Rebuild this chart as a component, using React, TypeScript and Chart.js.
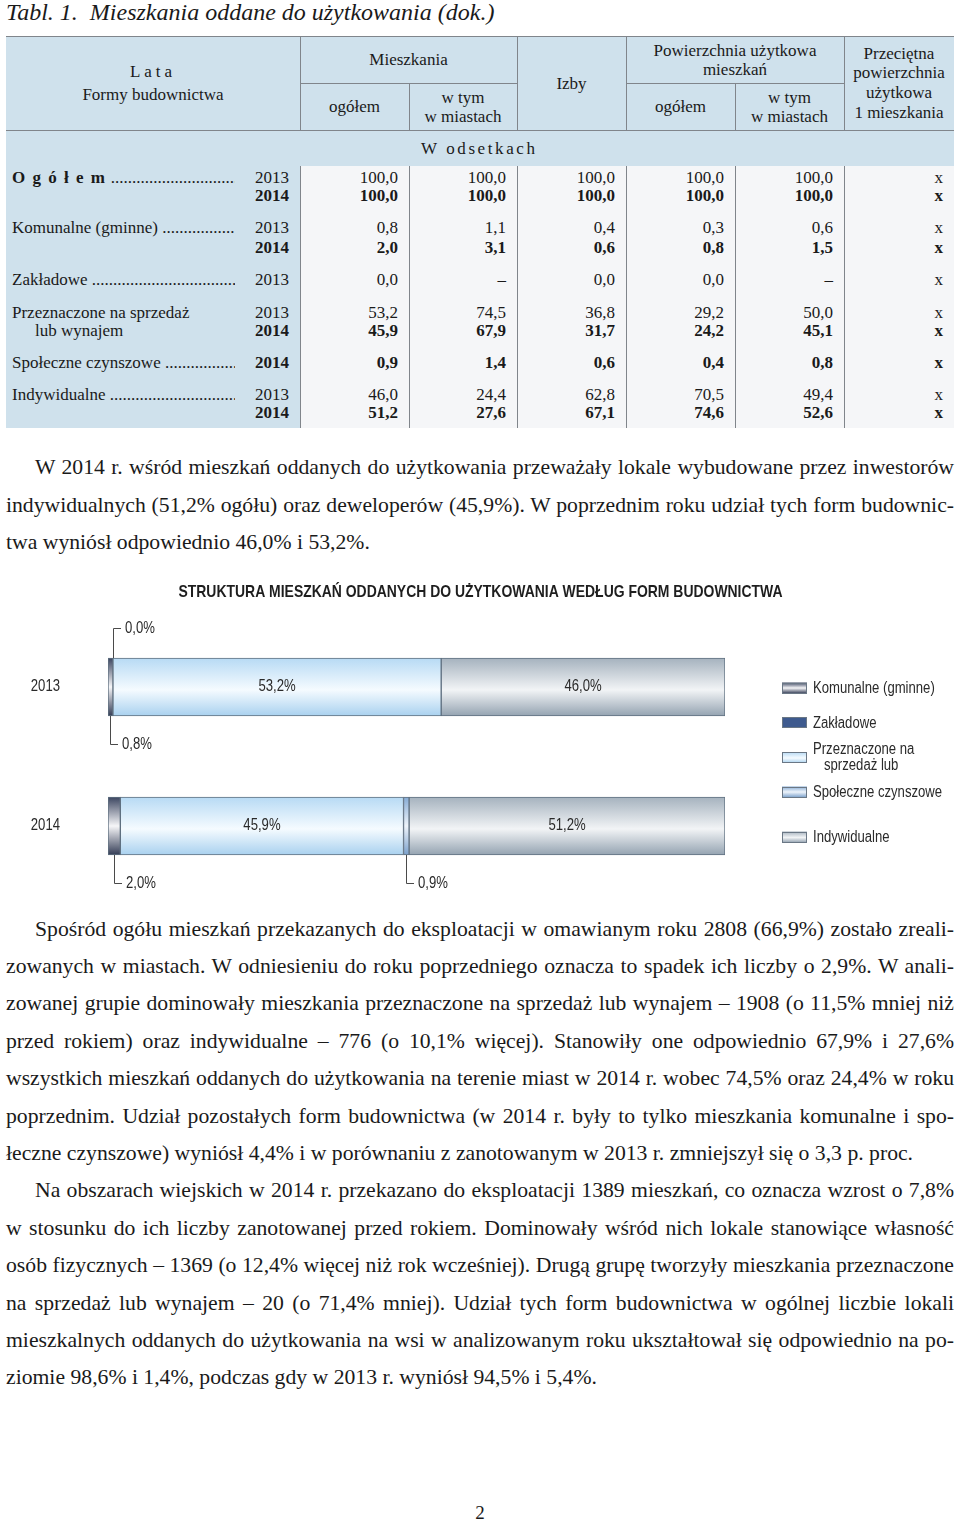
import React, { useEffect, useRef } from 'react';
import { Chart, registerables } from 'chart.js';

Chart.register(...registerables);

// ---------------- DATA ----------------
const years = ['2013', '2014'];
const seriesNames = ['Komunalne (gminne)', 'Zakładowe', 'Przeznaczone na\nsprzedaż lub', 'Społeczne czynszowe', 'Indywidualne'];
const komunalne = [0.8, 2.0];
const zakladowe = [0.0, null];
const przeznaczone = [53.2, 45.9];
const spoleczne = [null, 0.9];
const indywidualne = [46.0, 51.2];
const chartTitle = 'STRUKTURA MIESZKAŃ ODDANYCH DO UŻYTKOWANIA WEDŁUG FORM BUDOWNICTWA';

// table data
const tableTitle = 'Tabl. 1.  Mieszkania oddane do użytkowania (dok.)';
const rowLabels = ['O g ó ł e m', 'Komunalne (gminne)', 'Zakładowe', 'Przeznaczone na sprzedaż', 'Społeczne czynszowe', 'Indywidualne'];
const rowYears = [['2013', '2014'], ['2013', '2014'], ['2013'], ['2013', '2014'], ['2014'], ['2013', '2014']];
const ogolemVals = [['100,0', '100,0', '100,0', '100,0', '100,0', 'x'], ['100,0', '100,0', '100,0', '100,0', '100,0', 'x']];
const komunalneVals = [['0,8', '1,1', '0,4', '0,3', '0,6', 'x'], ['2,0', '3,1', '0,6', '0,8', '1,5', 'x']];
const zakladoweVals = [['0,0', '–', '0,0', '0,0', '–', 'x']];
const przeznaczoneVals = [['53,2', '74,5', '36,8', '29,2', '50,0', 'x'], ['45,9', '67,9', '31,7', '24,2', '45,1', 'x']];
const spoleczneVals = [['0,9', '1,4', '0,6', '0,4', '0,8', 'x']];
const indywidualneVals = [['46,0', '24,4', '62,8', '70,5', '49,4', 'x'], ['51,2', '27,6', '67,1', '74,6', '52,6', 'x']];
const rowValues = [ogolemVals, komunalneVals, zakladoweVals, przeznaczoneVals, spoleczneVals, indywidualneVals];

const para1 = [
  'W 2014 r. wśród mieszkań oddanych do użytkowania przeważały lokale wybudowane przez inwestorów',
  'indywidualnych (51,2% ogółu) oraz deweloperów (45,9%). W poprzednim roku udział tych form budownic-',
  'twa wyniósł odpowiednio 46,0% i 53,2%.',
];
const para2 = [
  'Spośród ogółu mieszkań przekazanych do eksploatacji w omawianym roku 2808 (66,9%) zostało zreali-',
  'zowanych w miastach. W odniesieniu do roku poprzedniego oznacza to spadek ich liczby o 2,9%. W anali-',
  'zowanej grupie dominowały mieszkania przeznaczone na sprzedaż lub wynajem – 1908 (o 11,5% mniej niż',
  'przed rokiem) oraz indywidualne – 776 (o 10,1% więcej). Stanowiły one odpowiednio 67,9% i 27,6%',
  'wszystkich mieszkań oddanych do użytkowania na terenie miast w 2014 r. wobec 74,5% oraz 24,4% w roku',
  'poprzednim. Udział pozostałych form budownictwa (w 2014 r. były to tylko mieszkania komunalne i spo-',
  'łeczne czynszowe) wyniósł 4,4% i w porównaniu z zanotowanym w 2013 r. zmniejszył się o 3,3 p. proc.',
];
const para3 = [
  'Na obszarach wiejskich w 2014 r. przekazano do eksploatacji 1389 mieszkań, co oznacza wzrost o 7,8%',
  'w stosunku do ich liczby zanotowanej przed rokiem. Dominowały wśród nich lokale stanowiące własność',
  'osób fizycznych – 1369 (o 12,4% więcej niż rok wcześniej). Drugą grupę tworzyły mieszkania przeznaczone',
  'na sprzedaż lub wynajem – 20 (o 71,4% mniej). Udział tych form budownictwa w ogólnej liczbie lokali',
  'mieszkalnych oddanych do użytkowania na wsi w analizowanym roku ukształtował się odpowiednio na po-',
  'ziomie 98,6% i 1,4%, podczas gdy w 2013 r. wyniósł 94,5% i 5,4%.',
];

// ---------------- STYLE ----------------
const SERIF = '"Liberation Serif", "Times New Roman", serif';
const SANS = '"Liberation Sans", Arial, sans-serif';
const NARROW_K = 0.82;
const HEAD_BG = '#cfe1ec';
const DATA_BG = '#f5f6f8';
const LINE = '#80858b';
const TXT = '#2a2a2a';
const colEdges = [300, 409, 517, 626, 735, 844, 954];
const rowLineY = [[178, 196], [228, 248], [280], [313, 331], [363], [395, 413]];
const paraY = [[467, 505, 542], [929, 966, 1003, 1041, 1078, 1116, 1153], [1190, 1228, 1265, 1303, 1340, 1377]];

const gradients = [
  [[0, '#3b4560'], [0.5, '#f6f6f8'], [1, '#333c55']],
  [[0, '#3e5a8e'], [0.5, '#3e5a8e'], [1, '#3e5a8e']],
  [[0, '#b7daf4'], [0.55, '#f5fbff'], [1, '#a9d1ef']],
  [[0, '#86abd4'], [0.5, '#eef4fb'], [1, '#7aa0cb']],
  [[0, '#a5b2be'], [0.55, '#f2f4f6'], [1, '#94a3b1']],
];
const leaderSide = ['below', 'above', 'below', 'below', 'below'];
const legendY = [118, 152.5, 187.5, 222, 267];
const BAR_T = 58;

function fmt(v: number) {
  return v.toFixed(1).replace('.', ',') + '%';
}

function makeGrad(c: CanvasRenderingContext2D, stops: any[], y0: number, y1: number) {
  const g = c.createLinearGradient(0, y0, 0, y1);
  stops.forEach(([o, col]) => g.addColorStop(o, col));
  return g;
}

// condensed text (Arial-Narrow-like) drawn by horizontal scaling
function narrowText(c: CanvasRenderingContext2D, text: string, x: number, y: number, align: 'left' | 'center' | 'right', size: number, bold = false) {
  c.save();
  c.font = `${bold ? 'bold ' : ''}${size}px ${SANS}`;
  c.textBaseline = 'middle';
  c.textAlign = 'left';
  const w = c.measureText(text).width * NARROW_K;
  const x0 = align === 'left' ? x : align === 'center' ? x - w / 2 : x - w;
  c.translate(x0, y);
  c.scale(NARROW_K, 1);
  c.fillText(text, 0, 0);
  c.restore();
}

function gradFill(idx: number) {
  return (ctx: any) => {
    const chart = ctx.chart;
    const ys = chart.scales && chart.scales.y;
    if (!ys || !chart.chartArea || ctx.dataIndex === undefined) return gradients[idx][1][1];
    const c = ys.getPixelForValue(ctx.dataIndex);
    if (!isFinite(c)) return gradients[idx][1][1];
    return makeGrad(chart.ctx, gradients[idx], c - BAR_T / 2, c + BAR_T / 2);
  };
}

const decorPlugin = {
  id: 'decor',
  afterDatasetsDraw(chart: any) {
    const c: CanvasRenderingContext2D = chart.ctx;
    c.save();
    c.fillStyle = TXT;
    // category labels
    const ys = chart.scales.y;
    chart.data.labels.forEach((lab: string, i: number) => {
      narrowText(c, lab, ys.left + 60, ys.getPixelForTick(i), 'right', 16);
    });
    chart.data.datasets.forEach((ds: any, di: number) => {
      const meta = chart.getDatasetMeta(di);
      meta.data.forEach((el: any, i: number) => {
        const v = ds.data[i];
        if (v === null || v === undefined) return;
        const p = el.getProps(['x', 'base', 'y', 'height'], true);
        const cx = (p.x + p.base) / 2;
        const txt = fmt(v);
        if (v >= 5) {
          narrowText(c, txt, cx, p.y, 'center', 16);
        } else {
          const up = leaderSide[di] === 'above';
          const yEdge = up ? p.y - p.height / 2 : p.y + p.height / 2;
          const yEnd = up ? yEdge - 30 : yEdge + 28;
          c.strokeStyle = '#4a4a4a';
          c.lineWidth = 1;
          c.beginPath();
          c.moveTo(Math.round(cx) + 0.5, yEdge);
          c.lineTo(Math.round(cx) + 0.5, Math.round(yEnd) + 0.5);
          c.lineTo(Math.round(cx) + 8, Math.round(yEnd) + 0.5);
          c.stroke();
          narrowText(c, txt, Math.round(cx) + 12, yEnd + 1, 'left', 16);
        }
      });
    });
    c.restore();
  },
  afterDraw(chart: any) {
    const c: CanvasRenderingContext2D = chart.ctx;
    c.save();
    c.fillStyle = '#1e1e1e';
    narrowText(c, chartTitle, 480.5, 22, 'center', 17, true);
    // legend
    const bx = 782;
    chart.data.datasets.forEach((ds: any, di: number) => {
      const cy = legendY[di];
      c.fillStyle = makeGrad(c, gradients[di], cy - 5.5, cy + 5.5);
      c.fillRect(bx, cy - 5.5, 25, 11);
      c.strokeStyle = '#6a7785';
      c.lineWidth = 1;
      c.strokeRect(bx + 0.5, Math.round(cy - 5.5) + 0.5, 24, 10);
      c.fillStyle = TXT;
      const lines = String(ds.label).split('\n');
      if (lines.length === 1) {
        narrowText(c, lines[0], 813, cy + 1, 'left', 16);
      } else {
        narrowText(c, lines[0], 813, cy - 8, 'left', 16);
        narrowText(c, lines[1], 824, cy + 8.5, 'left', 16);
      }
    });
    c.restore();
  },
};

function StructureChart() {
  const ref = useRef<HTMLCanvasElement | null>(null);
  useEffect(() => {
    if (!ref.current) return;
    const series = [komunalne, zakladowe, przeznaczone, spoleczne, indywidualne];
    const chart = new Chart(ref.current, {
      type: 'bar',
      data: {
        labels: years,
        datasets: series.map((d, i) => ({
          label: seriesNames[i],
          data: d,
          backgroundColor: gradFill(i),
          borderColor: '#5f7080',
          borderWidth: 1,
          borderSkipped: false,
          barThickness: BAR_T,
          stack: 's',
        })),
      },
      options: {
        indexAxis: 'y',
        animation: false,
        responsive: false,
        layout: { padding: { left: 0, right: 235, top: 47.5, bottom: 9.5 } },
        plugins: { legend: { display: false }, title: { display: false }, tooltip: { enabled: false } },
        scales: {
          x: { stacked: true, min: 0, max: 100, display: false },
          y: {
            stacked: true,
            grid: { display: false, drawTicks: false },
            border: { display: false },
            ticks: { display: false },
            afterFit: (s: any) => { s.width = 108; },
          },
        },
      } as any,
      plugins: [decorPlugin],
    });
    return () => chart.destroy();
  }, []);
  return (
    <canvas ref={ref} width={960} height={335}
      style={{ position: 'absolute', left: 0, top: 570, width: 960, height: 335, display: 'block' }} />
  );
}

const abs = (l: number, t: number, w: number, h: number): React.CSSProperties => ({ position: 'absolute', left: l, top: t, width: w, height: h });

function HCell({ l, t, w, h, lines, lh = 19, ls }: any) {
  return (
    <div style={{ ...abs(l, t, w, h), display: 'flex', alignItems: 'center', justifyContent: 'center', textAlign: 'center', lineHeight: lh + 'px' }}>
      <div>
        {lines.map((s: string, i: number) => (
          <div key={i} style={{ letterSpacing: ls && i === 0 ? ls : undefined }}>{s}</div>
        ))}
      </div>
    </div>
  );
}

function Table() {
  const hLines = [
    { l: 6, t: 36, w: 948 },
    { l: 300, t: 83, w: 217 },
    { l: 626, t: 83, w: 218 },
    { l: 6, t: 130, w: 948 },
  ];
  const vHead = [[300, 36], [409, 83], [517, 36], [626, 36], [735, 83], [844, 36]];
  return (
    <div style={{ position: 'absolute', left: 0, top: 0, width: 960, height: 440, fontFamily: SERIF, fontSize: 17, color: '#1a1a1a', whiteSpace: 'nowrap' }}>
      <div style={{ ...abs(6, 36, 948, 392), background: HEAD_BG }} />
      <div style={{ ...abs(300, 166, 654, 262), background: DATA_BG }} />
      {hLines.map((h, i) => <div key={'h' + i} style={{ ...abs(h.l, h.t, h.w, 1), background: LINE }} />)}
      {vHead.map(([x, t], i) => <div key={'v' + i} style={{ ...abs(x, t, 1, 130 - t), background: LINE }} />)}
      {colEdges.slice(0, 6).map((x, i) => <div key={'vd' + i} style={{ ...abs(x, 166, 1, 262), background: LINE }} />)}
      <HCell l={6} t={36} w={294} h={94} lh={23} lines={['Lata', 'Formy budownictwa']} ls="4px" />
      <HCell l={300} t={36} w={217} h={47} lines={['Mieszkania']} />
      <HCell l={300} t={83} w={109} h={47} lines={['ogółem']} />
      <HCell l={409} t={83} w={108} h={47} lines={['w tym', 'w miastach']} />
      <HCell l={517} t={36} w={109} h={94} lines={['Izby']} />
      <HCell l={626} t={36} w={218} h={47} lines={['Powierzchnia użytkowa', 'mieszkań']} />
      <HCell l={626} t={83} w={109} h={47} lines={['ogółem']} />
      <HCell l={735} t={83} w={109} h={47} lines={['w tym', 'w miastach']} />
      <HCell l={844} t={36} w={110} h={94} lh={19.7} lines={['Przeciętna', 'powierzchnia', 'użytkowa', '1 mieszkania']} />
      <div style={{ position: 'absolute', left: 421, top: 138, lineHeight: '22px', letterSpacing: '2.6px' }}>W odsetkach</div>
      {rowLabels.map((lab, r) => {
        const ys = rowLineY[r];
        const isMulti = r === 3;
        return (
          <React.Fragment key={'r' + r}>
            {isMulti ? (
              <>
                <div style={{ position: 'absolute', left: 12, top: ys[0] - 11, lineHeight: '22px' }}>Przeznaczone na sprzedaż</div>
                <div style={{ position: 'absolute', left: 35, top: ys[1] - 11, lineHeight: '22px' }}>lub wynajem</div>
              </>
            ) : (
              <div style={{ position: 'absolute', left: 12, top: ys[0] - 11, width: 223, lineHeight: '22px', overflow: 'hidden' }}>
                <span style={{ fontWeight: r === 0 ? 'bold' : 'normal', letterSpacing: r === 0 ? '1.5px' : undefined }}>{lab}</span>
                <span> ..........................................................</span>
              </div>
            )}
            {rowYears[r].map((yr, k) => (
              <React.Fragment key={'y' + k}>
                <div style={{ position: 'absolute', left: 200, width: 89, top: ys[k] - 11, lineHeight: '22px', textAlign: 'right', fontWeight: yr === '2014' ? 'bold' : 'normal' }}>{yr}</div>
                {rowValues[r][k].map((v, c) => (
                  <div key={'c' + c} style={{ position: 'absolute', left: colEdges[c], width: colEdges[c + 1] - colEdges[c] - 11, top: ys[k] - 11, lineHeight: '22px', textAlign: 'right', fontWeight: yr === '2014' ? 'bold' : 'normal' }}>{v}</div>
                ))}
              </React.Fragment>
            ))}
          </React.Fragment>
        );
      })}
    </div>
  );
}

function Para({ lines, ys }: { lines: string[]; ys: number[] }) {
  return (
    <>
      {lines.map((s, i) => {
        const last = i === lines.length - 1;
        const left = i === 0 ? 35 : 6;
        return (
          <div key={i} style={{ position: 'absolute', left, width: 954 - left, top: ys[i] - 13, lineHeight: '26px', textAlign: last ? 'left' : 'justify', textAlignLast: last ? 'left' : 'justify', whiteSpace: last ? 'nowrap' : 'normal' } as React.CSSProperties}>{s}</div>
        );
      })}
    </>
  );
}

export default function App() {
  return (
    <div style={{ position: 'relative', width: 960, height: 1522, overflow: 'hidden', background: '#fff', fontFamily: SERIF, color: '#1a1a1a' }}>
      <style>{'body{margin:0}'}</style>
      <div style={{ position: 'absolute', left: 6, top: 0, lineHeight: '24px', fontSize: 24, fontStyle: 'italic', whiteSpace: 'pre' }}>{tableTitle}</div>
      <Table />
      <div style={{ position: 'absolute', left: 0, top: 0, width: 960, fontSize: 21.7 }}>
        <Para lines={para1} ys={paraY[0]} />
        <Para lines={para2} ys={paraY[1]} />
        <Para lines={para3} ys={paraY[2]} />
      </div>
      <StructureChart />
      <div style={{ position: 'absolute', left: 0, width: 960, top: 1502, lineHeight: '22px', textAlign: 'center', fontSize: 19 }}>2</div>
    </div>
  );
}
